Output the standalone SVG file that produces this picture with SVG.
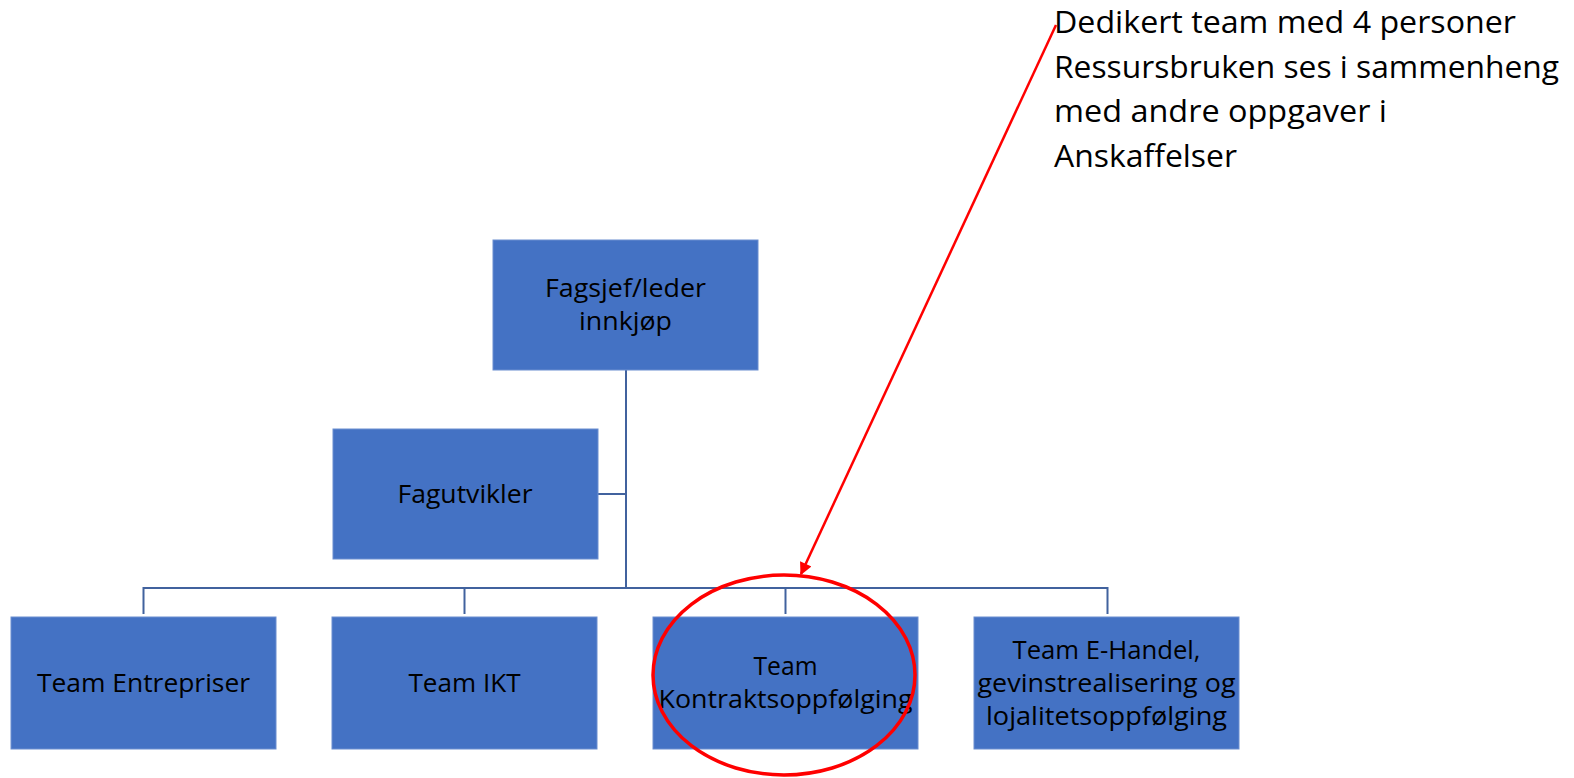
<svg xmlns="http://www.w3.org/2000/svg" width="1574" height="778" viewBox="0 0 1574 778">
<style>
.box{fill:#4472C4;stroke:#6A8ED0;stroke-width:1}
.t{font-family:"Open Sans","Liberation Sans",sans-serif;font-size:26px;fill:#000;text-anchor:middle}
.note{font-family:"Open Sans","Liberation Sans",sans-serif;font-size:31px;fill:#000}
.conn{stroke:#41629E;stroke-width:2;fill:none}
</style>
<defs>
<marker id="ah" viewBox="0 0 10 10" refX="9" refY="5" markerWidth="6" markerHeight="5" orient="auto" markerUnits="strokeWidth">
<path d="M0,0 L10,5 L0,10 z" fill="#FF0000"/>
</marker>
</defs>
<g id="connectors">
<path class="conn" d="M626,370 V588"/>
<path class="conn" d="M598,494 H626"/>
<path class="conn" d="M143.5,614 V588 H1107.5 V614"/>
<path class="conn" d="M464.5,588 V614"/>
<path class="conn" d="M785.5,588 V614"/>
</g>
<g id="n-leder"><rect class="box" x="493" y="240" width="265" height="130"/>
<text class="t" x="625.5" y="297" textLength="161" lengthAdjust="spacingAndGlyphs">Fagsjef/leder</text>
<text class="t" x="625.5" y="330" textLength="93" lengthAdjust="spacingAndGlyphs">innkjøp</text></g>
<g id="n-fagutvikler"><rect class="box" x="333" y="429" width="265" height="130"/>
<text class="t" x="465" y="503" textLength="135" lengthAdjust="spacingAndGlyphs">Fagutvikler</text></g>
<g id="n-entrepriser"><rect class="box" x="11" y="617" width="265" height="132"/>
<text class="t" x="143.5" y="692" textLength="213" lengthAdjust="spacingAndGlyphs">Team Entrepriser</text></g>
<g id="n-ikt"><rect class="box" x="332" y="617" width="265" height="132"/>
<text class="t" x="464.5" y="692" textLength="112" lengthAdjust="spacingAndGlyphs">Team IKT</text></g>
<g id="n-kontrakt"><rect class="box" x="653" y="617" width="265" height="132"/>
<text class="t" x="785.5" y="675" textLength="64" lengthAdjust="spacingAndGlyphs">Team</text>
<text class="t" x="785.5" y="708" textLength="254" lengthAdjust="spacingAndGlyphs">Kontraktsoppfølging</text></g>
<g id="n-ehandel"><rect class="box" x="974" y="617" width="265" height="132"/>
<text class="t" x="1106.5" y="659" textLength="188" lengthAdjust="spacingAndGlyphs">Team E-Handel,</text>
<text class="t" x="1106.5" y="692" textLength="258" lengthAdjust="spacingAndGlyphs">gevinstrealisering og</text>
<text class="t" x="1106.5" y="725" textLength="241" lengthAdjust="spacingAndGlyphs">lojalitetsoppfølging</text></g>
<g id="annotation">
<ellipse cx="784" cy="675" rx="131" ry="100" fill="none" stroke="#FF0000" stroke-width="3.5"/>
<line x1="1056" y1="25" x2="801" y2="574" stroke="#FF0000" stroke-width="2.5" marker-end="url(#ah)"/>
<text class="note" x="1054" y="33" textLength="462" lengthAdjust="spacingAndGlyphs">Dedikert team med 4 personer</text>
<text class="note" x="1054" y="78" textLength="505" lengthAdjust="spacingAndGlyphs">Ressursbruken ses i sammenheng</text>
<text class="note" x="1054" y="122" textLength="333" lengthAdjust="spacingAndGlyphs">med andre oppgaver i</text>
<text class="note" x="1054" y="167" textLength="183" lengthAdjust="spacingAndGlyphs">Anskaffelser</text>
</g>
</svg>
